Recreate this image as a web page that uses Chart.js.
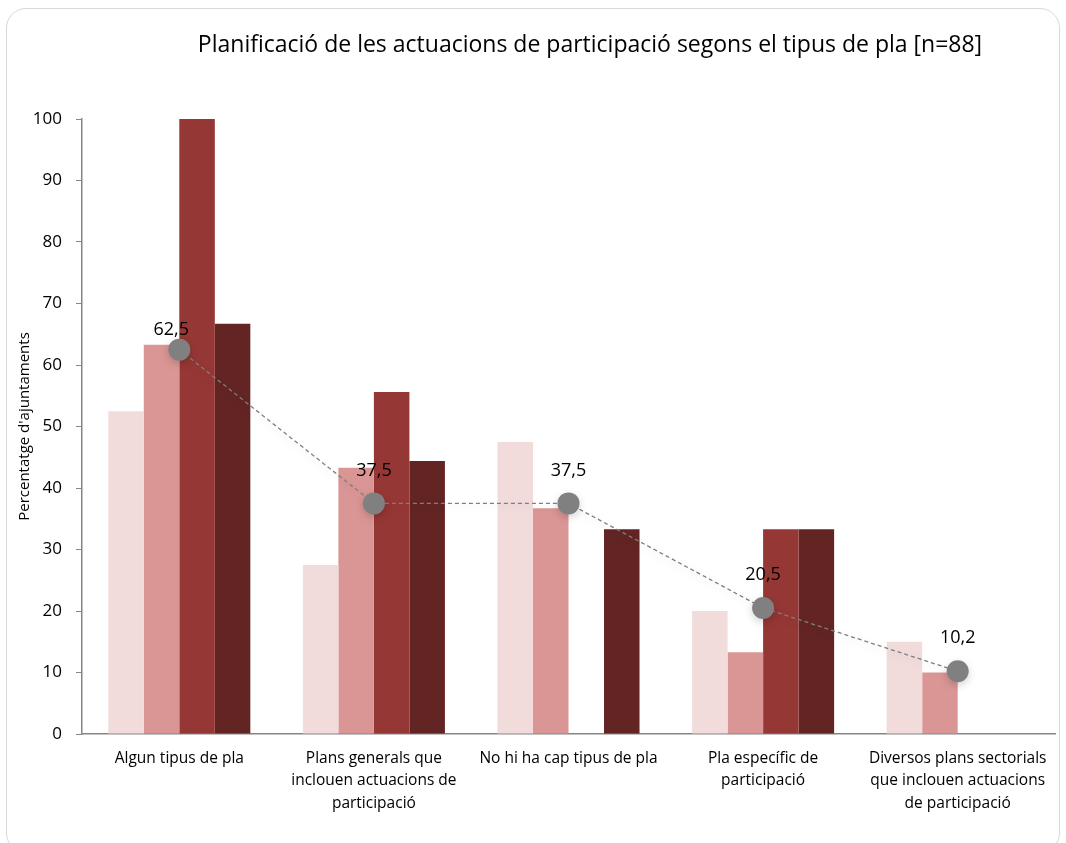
<!DOCTYPE html>
<html>
<head>
<meta charset="utf-8">
<script src="https://cdn.jsdelivr.net/npm/chart.js@4.4.1/dist/chart.umd.min.js"></script>
<style>
    body { margin: 0; background: #fff; }
    .wrap { position: relative; width: 1066px; height: 843px; overflow: hidden; }
    .frame {
        position: absolute; left: 6px; top: 8px; width: 1054px; height: 845px;
        border: 1px solid #d9d9d9; border-radius: 20px; box-sizing: border-box;
    }
    canvas { position: absolute; left: 0; top: 0; }
</style>
</head>
<body>
<div class="wrap">
    <div class="frame"></div>
    <canvas id="chart" width="1066" height="843"></canvas>
</div>
<script>
const chartTitle = 'Planificació de les actuacions de participació segons el tipus de pla [n=88]';
const categories = [
    ['Algun tipus de pla'],
    ['Plans generals que', 'inclouen actuacions de', 'participació'],
    ['No hi ha cap tipus de pla'],
    ['Pla específic de', 'participació'],
    ['Diversos plans sectorials', 'que inclouen actuacions', 'de participació']
];
const serie1 = [52.5, 27.5, 47.5, 20.0, 15.0];
const serie2 = [63.3, 43.3, 36.7, 13.3, 10.0];
const serie3 = [100, 55.6, 0, 33.3, 0];
const serie4 = [66.7, 44.4, 33.3, 33.3, 0];
const total = [62.5, 37.5, 37.5, 20.5, 10.2];
const yTicks = [0, 10, 20, 30, 40, 50, 60, 70, 80, 90, 100];

const font = "'Open Sans', 'DejaVu Sans', sans-serif";

const titlePlugin = {
    id: 'titleText',
    afterDraw(chart) {
        const ctx = chart.ctx;
        ctx.save();
        ctx.font = `23px ${font}`;
        ctx.fillStyle = '#000';
        ctx.textAlign = 'center';
        ctx.textBaseline = 'middle';
        ctx.fillText(chartTitle, 590, 45);
        ctx.restore();
    }
};

const lineShadow = {
    id: 'lineShadow',
    beforeDatasetDraw(chart, args) {
        if (args.index !== 4) return;
        const ctx = chart.ctx;
        ctx.save();
        ctx.shadowColor = 'rgba(0,0,0,0.18)';
        ctx.shadowBlur = 8;
        ctx.shadowOffsetY = 3;
    },
    afterDatasetDraw(chart, args) {
        if (args.index !== 4) return;
        chart.ctx.restore();
    }
};

const pointLabels = {
    id: 'pointLabels',
    afterDatasetsDraw(chart) {
        const ctx = chart.ctx;
        const meta = chart.getDatasetMeta(4);
        ctx.save();
        ctx.font = `18px ${font}`;
        ctx.fillStyle = '#000';
        ctx.textAlign = 'center';
        ctx.textBaseline = 'middle';
        meta.data.forEach((pt, i) => {
            const txt = total[i].toFixed(1).replace('.', ',');
            const lift = i === 0 ? 20 : 33;
            ctx.fillText(txt, pt.x - (i === 0 ? 8 : 0), pt.y - lift);
        });
        ctx.restore();
    }
};

new Chart(document.getElementById('chart'), {
    data: {
        labels: categories,
        datasets: [
            { type: 'bar', data: serie1, backgroundColor: '#F2DCDB', order: 1 },
            { type: 'bar', data: serie2, backgroundColor: '#DA9694', order: 1 },
            { type: 'bar', data: serie3, backgroundColor: '#953735', order: 1 },
            { type: 'bar', data: serie4, backgroundColor: '#632523', order: 1 },
            {
                type: 'line', data: total, order: 0,
                borderColor: '#7f7f7f', borderWidth: 1.3, borderDash: [4, 3],
                pointRadius: 11, pointHoverRadius: 11,
                pointBackgroundColor: '#808080', pointBorderWidth: 0
            }
        ]
    },
    options: {
        responsive: false,
        animation: false,
        layout: { padding: { left: 10, right: 6, top: 119, bottom: 0 } },
        datasets: { bar: { categoryPercentage: 0.73, barPercentage: 1 } },
        plugins: {
            legend: { display: false },
            tooltip: { enabled: false }
        },
        scales: {
            x: {
                afterFit(scale) { scale.height = 109; },
                grid: { drawOnChartArea: false, drawTicks: false, color: '#868686' },
                border: { display: true, color: '#868686', width: 1.5 },
                ticks: {
                    color: '#000', font: { family: font, size: 15.5, lineHeight: 1.45 },
                    padding: 13, maxRotation: 0
                }
            },
            y: {
                min: 0, max: 100,
                afterFit(scale) { scale.width = 72; },
                afterBuildTicks(scale) { scale.ticks = yTicks.map(v => ({ value: v })); },
                grid: { drawOnChartArea: false, drawTicks: true, tickLength: 6, color: '#868686' },
                border: { display: true, color: '#868686', width: 1.5 },
                ticks: { color: '#000', font: { family: font, size: 17 }, padding: 14 },
                title: {
                    display: true, text: "Percentatge d'ajuntaments", color: '#000',
                    font: { family: font, size: 15 }, padding: { top: 6, bottom: 0 }
                }
            }
        }
    },
    plugins: [titlePlugin, lineShadow, pointLabels]
});
</script>
</body>
</html>
